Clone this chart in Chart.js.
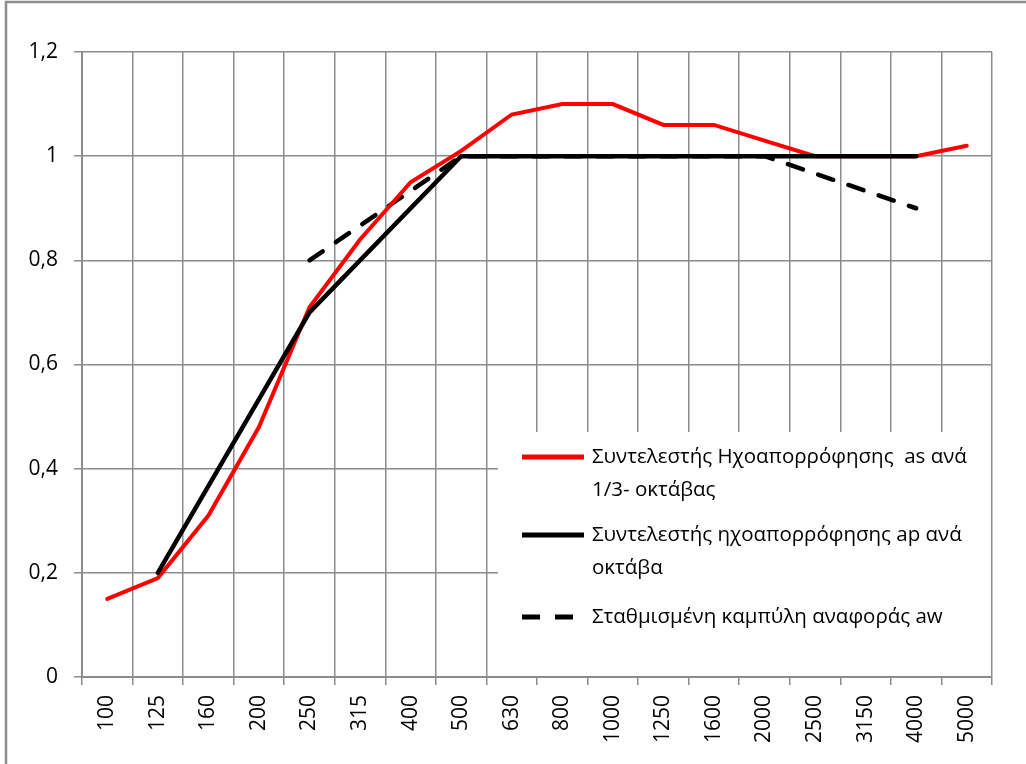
<!DOCTYPE html>
<html>
<head>
<meta charset="utf-8">
<script src="https://cdn.jsdelivr.net/npm/chart.js@4.4.0/dist/chart.umd.min.js"></script>
<style>
  body { margin: 0; background: #fff; }
  canvas { display: block; }
</style>
</head>
<body>
<canvas id="absChart" width="1026" height="764"></canvas>
<script>
// Συχνότητες (Hz)
const frequencies = ['100', '125', '160', '200', '250', '315', '400', '500', '630', '800',
    '1000', '1250', '1600', '2000', '2500', '3150', '4000', '5000'];

// as ανά 1/3 οκτάβας
const alphaThird = [0.15, 0.19, 0.31, 0.48, 0.71, 0.84, 0.95, 1.01, 1.08, 1.10,
    1.10, 1.06, 1.06, 1.03, 1.00, 1.00, 1.00, 1.02];

// ap ανά οκτάβα (μόνο κεντρικές συχνότητες οκτάβας)
const alphaOctave = [null, 0.2, null, null, 0.7, null, null, 1.0, null, null,
    1.0, null, null, 1.0, null, null, 1.0, null];

// καμπύλη αναφοράς aw
const alphaRef = [null, null, null, null, 0.8, null, null, 1.0, null, null,
    1.0, null, null, 1.0, null, null, 0.9, null];

const yTicks = [0, 0.2, 0.4, 0.6, 0.8, 1.0, 1.2];

const legendItems = [
    { lines: ['Συντελεστής Ηχοαπορρόφησης  as ανά', '1/3- οκτάβας'], color: '#ff0000', dash: [], gap: 12 },
    { lines: ['Συντελεστής ηχοαπορρόφησης ap ανά', 'οκτάβα'], color: '#000000', dash: [], gap: 16 },
    { lines: ['Σταθμισμένη καμπύλη αναφοράς aw'], color: '#000000', dash: [18, 15], gap: 0 }
];

const FONT = "'Open Sans', 'Noto Sans', sans-serif";

// περίγραμμα και υπόμνημα μέσα στην περιοχή του γραφήματος
const framePlugin = {
    id: 'frame',
    beforeDraw(chart) {
        const ctx = chart.ctx;
        ctx.save();
        ctx.strokeStyle = '#8c8c8c';
        ctx.lineWidth = 2.5;
        ctx.strokeRect(6, 2, 1100, 900);
        ctx.restore();
    },
    afterDraw(chart) {
        const ctx = chart.ctx;
        const area = chart.chartArea;
        const x0 = area.left + 416;
        const y0 = area.top + 380;
        ctx.save();
        ctx.fillStyle = '#fff';
        ctx.fillRect(x0, y0, area.right - x0 - 1, area.bottom - y0 - 1);
        ctx.font = '20.5px ' + FONT;
        ctx.textBaseline = 'middle';
        ctx.fillStyle = '#000';
        let y = y0 + 25;
        legendItems.forEach(item => {
            ctx.beginPath();
            ctx.setLineDash(item.dash);
            ctx.lineWidth = 5;
            ctx.strokeStyle = item.color;
            ctx.moveTo(x0 + 24, y);
            ctx.lineTo(x0 + 86, y);
            ctx.stroke();
            item.lines.forEach((t, i) => {
                ctx.fillText(t, x0 + 94, y + i * 33);
            });
            y += item.lines.length * 33 + item.gap;
        });
        ctx.restore();
    }
};

const ctx = document.getElementById('absChart').getContext('2d');
new Chart(ctx, {
    type: 'line',
    data: {
        labels: frequencies,
        datasets: [
            {
                label: legendItems[0].lines.join(' '),
                data: alphaThird,
                borderColor: '#ff0000',
                borderWidth: 4,
                order: 1
            },
            {
                label: legendItems[1].lines.join(' '),
                data: alphaOctave,
                borderColor: '#000000',
                borderWidth: 4.5,
                spanGaps: true,
                order: 0
            },
            {
                label: legendItems[2].lines[0],
                data: alphaRef,
                borderColor: '#000000',
                borderWidth: 4.5,
                borderDash: [16, 16],
                spanGaps: true,
                order: 2
            }
        ]
    },
    options: {
        responsive: false,
        animation: false,
        layout: { padding: { left: 0, top: 52, right: 34, bottom: 0 } },
        elements: {
            point: { radius: 0 },
            line: { tension: 0, borderCapStyle: 'round', fill: false }
        },
        plugins: {
            legend: { display: false },
            tooltip: { enabled: false }
        },
        scales: {
            x: {
                offset: true,
                grid: { offset: true, color: '#8c8c8c', lineWidth: 1.5, tickLength: 8 },
                border: { color: '#8c8c8c', width: 2 },
                ticks: {
                    color: '#000',
                    font: { family: FONT, size: 21 },
                    maxRotation: 90,
                    minRotation: 90,
                    padding: 10,
                    autoSkip: false
                },
                afterFit(scale) { scale.height = 87; }
            },
            y: {
                min: 0,
                max: 1.2,
                afterBuildTicks(scale) { scale.ticks = yTicks.map(v => ({ value: v })); },
                grid: { color: '#8c8c8c', lineWidth: 1.5, tickLength: 8 },
                border: { color: '#8c8c8c', width: 2 },
                ticks: {
                    color: '#000',
                    font: { family: FONT, size: 21 },
                    padding: 16,
                    callback: v => String(Number(v.toFixed(1))).replace('.', ',')
                },
                afterFit(scale) { scale.width = 82; }
            }
        }
    },
    plugins: [framePlugin]
});
</script>
</body>
</html>
